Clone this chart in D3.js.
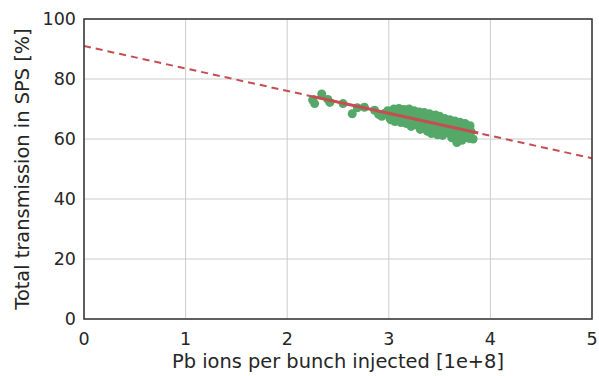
<!DOCTYPE html>
<html>
<head>
<meta charset="utf-8">
<script src="https://cdn.jsdelivr.net/npm/d3@7"></script>
<style>
  body { margin: 0; background: #fff; }
  text { font-family: "DejaVu Sans", sans-serif; fill: #262626; }
</style>
</head>
<body>
<div class="chart"></div>
<script>
var width = 599,
    height = 376;

var margin = {top: 19, right: 7, bottom: 57, left: 84};

var intensity = [2.25, 2.27, 2.34, 2.40, 2.42, 2.55, 2.64, 2.69, 2.76, 2.86, 2.90, 2.93, 2.96,
  2.99, 3.01, 3.02, 3.04, 3.05, 3.06, 3.07, 3.09, 3.10, 3.11, 3.12, 3.13, 3.15, 3.16, 3.17,
  3.19, 3.20, 3.21, 3.22, 3.24, 3.25, 3.26, 3.27, 3.29, 3.30, 3.31, 3.32, 3.34, 3.35, 3.36,
  3.37, 3.38, 3.40, 3.41, 3.42, 3.43, 3.44, 3.46, 3.47, 3.48, 3.49, 3.50, 3.51, 3.53, 3.54,
  3.55, 3.56, 3.57, 3.59, 3.60, 3.61, 3.62, 3.63, 3.64, 3.65, 3.66, 3.67, 3.68, 3.70, 3.71,
  3.72, 3.73, 3.74, 3.75, 3.76, 3.77, 3.79, 3.80, 3.81, 3.83, 3.05, 3.14, 3.23, 3.33, 3.45,
  3.52, 3.58, 3.69, 3.78, 3.18, 3.28, 3.39];
var transmission = [73.0, 71.8, 75.0, 73.2, 72.2, 71.8, 68.4, 70.4, 70.6, 69.6, 68.2, 67.6, 68.6,
  69.4, 67.0, 66.4, 68.8, 70.0, 65.8, 67.6, 69.0, 70.2, 66.2, 65.5, 68.4, 69.8, 66.8, 65.2,
  68.6, 70.0, 67.0, 64.2, 65.2, 69.4, 66.4, 67.8, 64.4, 69.0, 63.2, 65.8, 67.4, 68.8, 63.6,
  65.2, 62.6, 68.4, 66.8, 61.8, 63.4, 65.0, 68.0, 62.8, 61.4, 66.2, 67.6, 64.0, 61.2, 65.8,
  66.8, 62.2, 63.6, 65.2, 66.4, 61.6, 60.4, 64.8, 63.2, 66.0, 62.4, 58.8, 60.8, 65.6, 63.8,
  59.6, 62.2, 60.6, 65.2, 61.6, 63.6, 60.2, 64.4, 62.4, 60.0, 67.2, 67.4, 66.4, 64.8, 63.8,
  63.0, 62.2, 61.0, 61.2, 66.0, 66.2, 64.4];

// linear fit: transmission = fitIntercept + fitSlope * intensity
var fitIntercept = 91.0,
    fitSlope = -7.48;
var fitRange = [2.25, 3.88];
var fullRange = [0, 5];

var xTicks = [0, 1, 2, 3, 4, 5];
var yTicks = [0, 20, 40, 60, 80, 100];

var xLabel = "Pb ions per bunch injected [1e+8]";
var yLabel = "Total transmission in SPS [%]";

var green = "#55a868",
    red = "#c44e52";

var x = d3.scaleLinear().domain([0, 5]).range([margin.left, width - margin.right]);
var y = d3.scaleLinear().domain([0, 100]).range([height - margin.bottom, margin.top]);

var svg = d3.select(".chart")
  .append("svg")
  .attr("width", width)
  .attr("height", height);

// grid
svg.append("g")
  .selectAll("line")
  .data(xTicks)
  .enter()
  .append("line")
  .attr("x1", function(d) { return x(d); })
  .attr("x2", function(d) { return x(d); })
  .attr("y1", y(0))
  .attr("y2", y(100))
  .attr("stroke", "#cccccc")
  .attr("stroke-width", 1);

svg.append("g")
  .selectAll("line")
  .data(yTicks)
  .enter()
  .append("line")
  .attr("x1", x(0))
  .attr("x2", x(5))
  .attr("y1", function(d) { return y(d); })
  .attr("y2", function(d) { return y(d); })
  .attr("stroke", "#cccccc")
  .attr("stroke-width", 1);

var fit = function(v) { return fitIntercept + fitSlope * v; };
var line = d3.line()
  .x(function(d) { return x(d); })
  .y(function(d) { return y(fit(d)); });

// scatter
svg.append("g")
  .selectAll("circle")
  .data(intensity)
  .enter()
  .append("circle")
  .attr("cx", function(d) { return x(d); })
  .attr("cy", function(d, i) { return y(transmission[i]); })
  .attr("r", 4.5)
  .attr("fill", green);

// extrapolated fit (dashed)
svg.append("path")
  .attr("d", line(fullRange))
  .attr("fill", "none")
  .attr("stroke", red)
  .attr("stroke-width", 2)
  .attr("stroke-dasharray", "7,5");

// fit over data range
svg.append("path")
  .attr("d", line(fitRange))
  .attr("fill", "none")
  .attr("stroke", red)
  .attr("stroke-width", 3);

// frame
svg.append("rect")
  .attr("x", x(0))
  .attr("y", y(100))
  .attr("width", x(5) - x(0))
  .attr("height", y(0) - y(100))
  .attr("fill", "none")
  .attr("stroke", "#333333")
  .attr("stroke-width", 1.5);

// tick labels
svg.append("g")
  .selectAll("text")
  .data(xTicks)
  .enter()
  .append("text")
  .attr("x", function(d) { return x(d); })
  .attr("y", 345)
  .attr("text-anchor", "middle")
  .attr("font-size", "17.5px")
  .text(function(d) { return d; });

svg.append("g")
  .selectAll("text")
  .data(yTicks)
  .enter()
  .append("text")
  .attr("x", 76)
  .attr("y", function(d) { return y(d) + 6; })
  .attr("text-anchor", "end")
  .attr("font-size", "17.5px")
  .text(function(d) { return d; });

// axis labels
svg.append("text")
  .attr("x", (x(0) + x(5)) / 2)
  .attr("y", 368)
  .attr("text-anchor", "middle")
  .attr("font-size", "19.4px")
  .text(xLabel);

svg.append("text")
  .attr("transform", "translate(29," + (y(50)) + ") rotate(-90)")
  .attr("text-anchor", "middle")
  .attr("font-size", "19.4px")
  .text(yLabel);
</script>
</body>
</html>
